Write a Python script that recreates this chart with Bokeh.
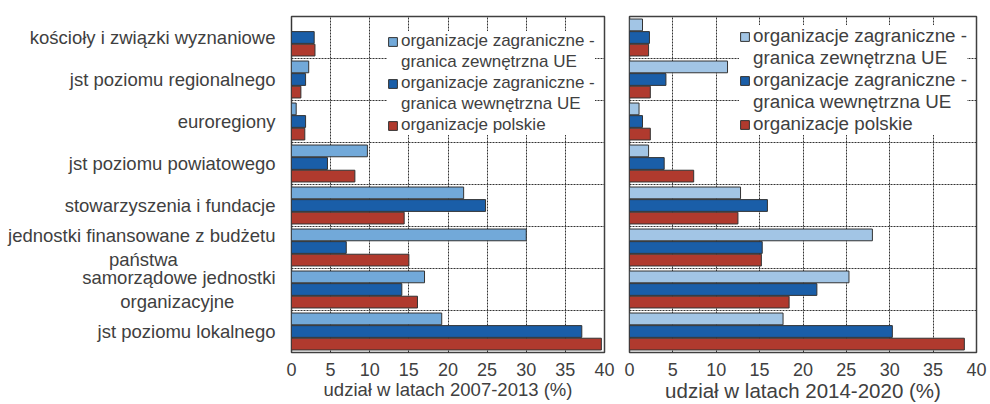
from bokeh.plotting import figure
from bokeh.layouts import row
from bokeh.models import Range1d, FixedTicker, ColumnDataSource, Legend, LegendItem
from bokeh.core.properties import value
from bokeh.embed import file_html
from bokeh.resources import INLINE

NB = "\u00a0"
categories = [
    "kościoły i związki wyznaniowe",
    "jst poziomu regionalnego",
    "euroregiony",
    "jst poziomu powiatowego",
    "stowarzyszenia i fundacje",
    "jednostki finansowane z budżetu\npaństwa" + NB * 19,
    "samorządowe jednostki\norganizacyjne" + NB * 8,
    "jst poziomu lokalnego",
]
series_names = [
    "organizacje zagraniczne -\ngranica zewnętrzna UE",
    "organizacje zagraniczne -\ngranica wewnętrzna UE",
    "organizacje polskie",
]
# 2007-2013
ext_0713 = [0.0, 2.2, 0.6, 9.7, 22.0, 30.0, 17.0, 19.2]
int_0713 = [2.9, 1.8, 1.8, 4.6, 24.8, 7.0, 14.1, 37.1]
pl_0713 = [3.0, 1.2, 1.7, 8.1, 14.4, 15.0, 16.1, 39.6]
# 2014-2020
ext_1420 = [1.5, 11.3, 1.1, 2.2, 12.8, 28.0, 25.3, 17.7]
int_1420 = [2.3, 4.2, 1.5, 4.0, 15.9, 15.3, 21.6, 30.3]
pl_1420 = [2.2, 2.4, 2.4, 7.4, 12.5, 15.2, 18.4, 38.6]
x_ticks = [0, 5, 10, 15, 20, 25, 30, 35, 40]
x_titles = ["udział w latach 2007-2013 (%)", "udział w latach 2014-2020 (%)"]

FONT = "Liberation Sans"
TXT = "#404040"
n = len(categories)
centers = [n - 0.5 - i for i in range(n)]


def make_panel(vals, colors, title, width, bl, br, show_y, fs_leg, fs_title,
               leg_loc, leg_spacing):
    p = figure(width=width, height=404, output_backend="svg", toolbar_location=None,
               x_range=Range1d(0, 40), y_range=Range1d(0, n),
               min_border_left=bl, min_border_right=br, min_border_top=16,
               min_border_bottom=51)
    offs = [0.30, 0.0, -0.30]
    items = []
    for k, (v, c, name) in enumerate(zip(vals, colors, series_names)):
        lines = name.split("\n")
        src = ColumnDataSource(dict(y=[cc + offs[k] for cc in centers], x=v))
        r = p.hbar(y="y", right="x", left=0, height=0.28, source=src, fill_color=c,
                   line_color="#333333", line_width=1)
        items.append(LegendItem(label=value(lines[0]), renderers=[r]))
        for extra in lines[1:]:
            blank = p.hbar(y=[], right=[], left=0, height=0.28, fill_alpha=0,
                           line_alpha=0)
            items.append(LegendItem(label=value(extra), renderers=[blank]))
    p.xgrid.ticker = FixedTicker(ticks=x_ticks[1:-1])
    p.ygrid.ticker = FixedTicker(ticks=list(range(1, n)))
    for g in (p.xgrid, p.ygrid):
        g.grid_line_color = "#333333"
        g.grid_line_dash = "2 1"
        g.grid_line_width = 1
    p.outline_line_color = "#404040"
    p.outline_line_width = 1.5
    ax = p.xaxis[0]
    ax.ticker = FixedTicker(ticks=x_ticks)
    ax.axis_line_color = None
    ax.major_tick_line_color = None
    ax.minor_tick_line_color = None
    ax.major_tick_out = 0
    ax.major_tick_in = 0
    ax.major_label_standoff = 10
    ax.major_label_text_font = FONT
    ax.major_label_text_font_size = "18px"
    ax.major_label_text_color = TXT
    ax.axis_label = title
    ax.axis_label_standoff = 0
    ax.axis_label_text_font = FONT
    ax.axis_label_text_font_size = fs_title
    ax.axis_label_text_font_style = "normal"
    ax.axis_label_text_color = TXT
    ya = p.yaxis[0]
    if show_y:
        ya.ticker = FixedTicker(ticks=centers)
        ya.major_label_overrides = {c: lab for c, lab in zip(centers, categories)}
        ya.axis_line_color = None
        ya.major_tick_line_color = None
        ya.minor_tick_line_color = None
        ya.major_tick_out = 0
        ya.major_tick_in = 0
        ya.major_label_standoff = 16
        ya.major_label_text_font = FONT
        ya.major_label_text_font_size = "18.5px"
        ya.major_label_text_line_height = 1.1
        ya.major_label_text_color = TXT
    else:
        ya.visible = False
    lg = Legend(items=items, location=leg_loc, margin=0, padding=10,
                spacing=leg_spacing, glyph_width=11, glyph_height=11,
                label_standoff=3, label_text_font=FONT, label_text_font_size=fs_leg,
                label_text_color=TXT, border_line_color=None,
                background_fill_color="white", background_fill_alpha=1.0)
    p.add_layout(lg, "center")
    return p


p1 = make_panel([ext_0713, int_0713, pl_0713], ["#72a9d9", "#1a5ea8", "#b03a2e"],
                x_titles[0], 619, 291, 15, True, "17px", "18.5px", (96, 217), 1)
p2 = make_panel([ext_1420, int_1420, pl_1420], ["#a2c5e5", "#1a5ea8", "#b03a2e"],
                x_titles[1], 371, 10, 14, False, "18.8px", "20.5px", (110, 217), 0)

layout = row(p1, p2)
open("out.html", "w").write(file_html(layout, INLINE))
